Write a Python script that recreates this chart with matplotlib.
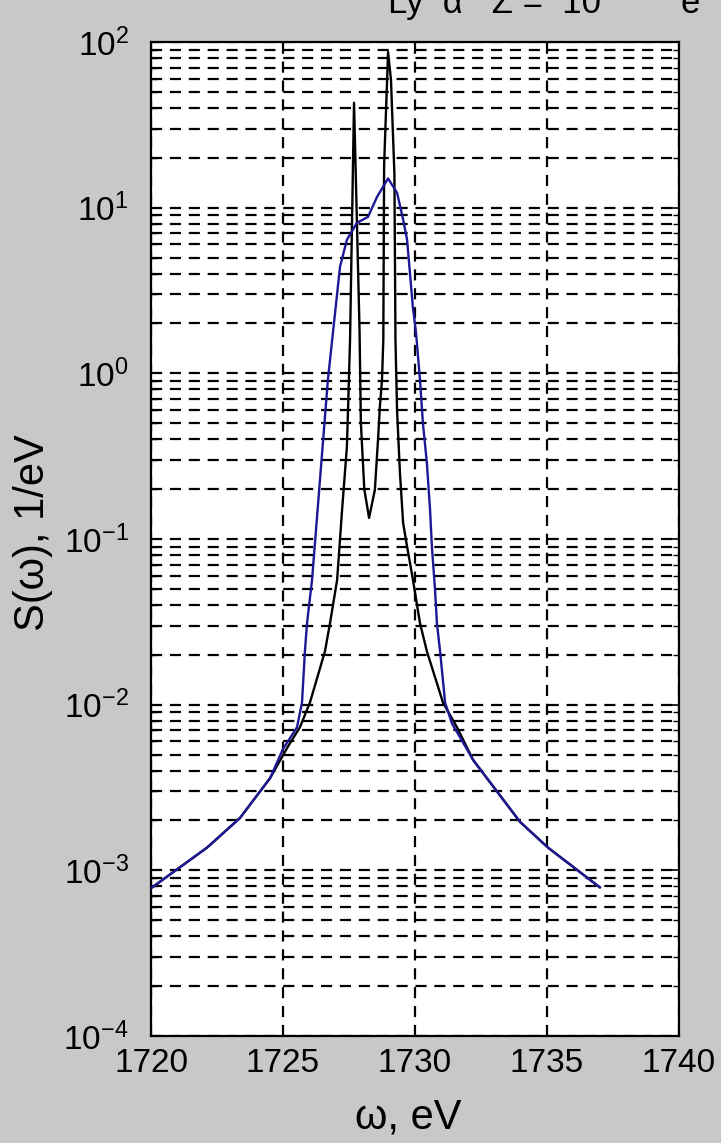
import matplotlib
matplotlib.use('Agg')
import matplotlib.pyplot as plt
from matplotlib.ticker import FixedLocator, FixedFormatter, LogLocator, NullFormatter

plt.rcParams['font.family'] = ['Liberation Sans', 'DejaVu Sans']
plt.rcParams['mathtext.fontset'] = 'custom'
plt.rcParams['mathtext.rm'] = 'Liberation Sans'

# black curve: two narrow lines
omega_k = [1720.0, 1722.12, 1723.37, 1724.51, 1725.19, 1725.64, 1726.02, 1726.59,
           1726.78, 1727.05, 1727.23, 1727.42, 1727.46, 1727.54, 1727.69, 1727.90,
           1727.95, 1728.08, 1728.26, 1728.48, 1728.60, 1728.67, 1728.75, 1728.80,
           1728.83, 1728.98, 1729.09, 1729.22, 1729.26, 1729.32, 1729.43, 1729.55,
           1729.70, 1729.92, 1730.19, 1730.45, 1731.06, 1731.59, 1732.20, 1733.98,
           1735.04, 1737.0]
s_k = [7.8e-4, 1.37e-3, 2.07e-3, 3.6e-3, 5.6e-3, 7.3e-3, 0.0103, 0.021,
       0.031, 0.0566, 0.144, 0.36, 0.58, 1.6, 43.0, 1.8,
       0.5, 0.2, 0.134, 0.198, 0.40, 0.63, 0.91, 1.6,
       18.0, 87.0, 59.0, 16.0, 1.6, 0.6, 0.25, 0.125,
       0.09, 0.057, 0.031, 0.021, 0.0103, 7.3e-3, 4.64e-3, 1.96e-3,
       1.37e-3, 7.9e-4]

# blue curve: broadened profile
omega_b = [1720.0, 1722.12, 1723.37, 1724.51, 1725.0, 1725.53, 1725.72, 1725.83,
           1725.91, 1726.10, 1726.40, 1726.70, 1726.97, 1727.16, 1727.42, 1727.80,
           1728.22, 1728.56, 1728.98, 1729.32, 1729.55, 1729.70, 1729.81, 1729.92,
           1730.04, 1730.19, 1730.30, 1730.45, 1730.57, 1730.64, 1730.76, 1730.83,
           1730.95, 1731.14, 1731.40, 1732.20, 1733.98, 1735.04, 1737.0]
s_b = [7.8e-4, 1.37e-3, 2.07e-3, 3.6e-3, 5.4e-3, 7.3e-3, 0.0103, 0.021,
       0.031, 0.0566, 0.227, 0.91, 2.3, 4.4, 6.4, 8.1,
       8.8, 11.6, 15.0, 12.3, 8.5, 6.4, 4.0, 2.5,
       1.75, 0.91, 0.50, 0.288, 0.15, 0.09, 0.049, 0.031,
       0.021, 0.0103, 7.7e-3, 4.64e-3, 1.96e-3, 1.37e-3, 7.9e-4]

xticks = [1720, 1725, 1730, 1735, 1740]
yexp = [-4, -3, -2, -1, 0, 1, 2]

W, H = 721, 1143
fig = plt.figure(figsize=(W / 100, H / 100), dpi=100, facecolor='#c8c8c8')
ax = fig.add_axes([151 / W, 1 - 1036 / H, 528 / W, 994 / H])
ax.set_facecolor('white')

ax.plot(omega_k, s_k, color='black', lw=1.7, zorder=3)
ax.plot(omega_b, s_b, color='#1e1896', lw=1.7, zorder=4)

ax.set_yscale('log')
ax.set_xlim(1720, 1740)
ax.set_ylim(1e-4, 1e2)

ax.xaxis.set_major_locator(FixedLocator(xticks))
ax.yaxis.set_major_locator(FixedLocator([10.0 ** e for e in yexp]))
ax.yaxis.set_major_formatter(FixedFormatter([r'$\mathregular{10^{%d}}$' % e for e in yexp]))
ax.yaxis.set_minor_locator(LogLocator(base=10, subs=range(2, 10)))
ax.yaxis.set_minor_formatter(NullFormatter())

dash = (0, (5, 3.5))
ax.grid(True, which='major', axis='x', color='black', lw=1.6, linestyle=dash)
ax.grid(True, which='both', axis='y', color='black', lw=1.6, linestyle=dash)

ax.tick_params(which='major', direction='in', top=True, right=True, length=7,
               width=1.2, labelsize=24, colors='black')
ax.tick_params(which='minor', direction='in', right=True, length=4, width=1.0)
ax.tick_params(axis='x', pad=9)
ax.tick_params(axis='y', pad=16)
for sp in ax.spines.values():
    sp.set_linewidth(1.6)

fig.text(33 / W, 1 - 533 / H, 'S(ω), 1/eV', rotation=90, ha='center', va='center', fontsize=30)
fig.text(408 / W, 1 - 1118 / H, 'ω, eV', ha='center', va='center', fontsize=30)

# title, partly cut off at the top edge
fig.text(388 / W, 1 - 13 / H, 'Ly  α   Z =  10', ha='left', va='baseline', fontsize=25)
fig.text(680 / W, 1 - 13 / H, 'e', ha='left', va='baseline', fontsize=25)

fig.savefig('out.png', dpi=100, facecolor=fig.get_facecolor())
